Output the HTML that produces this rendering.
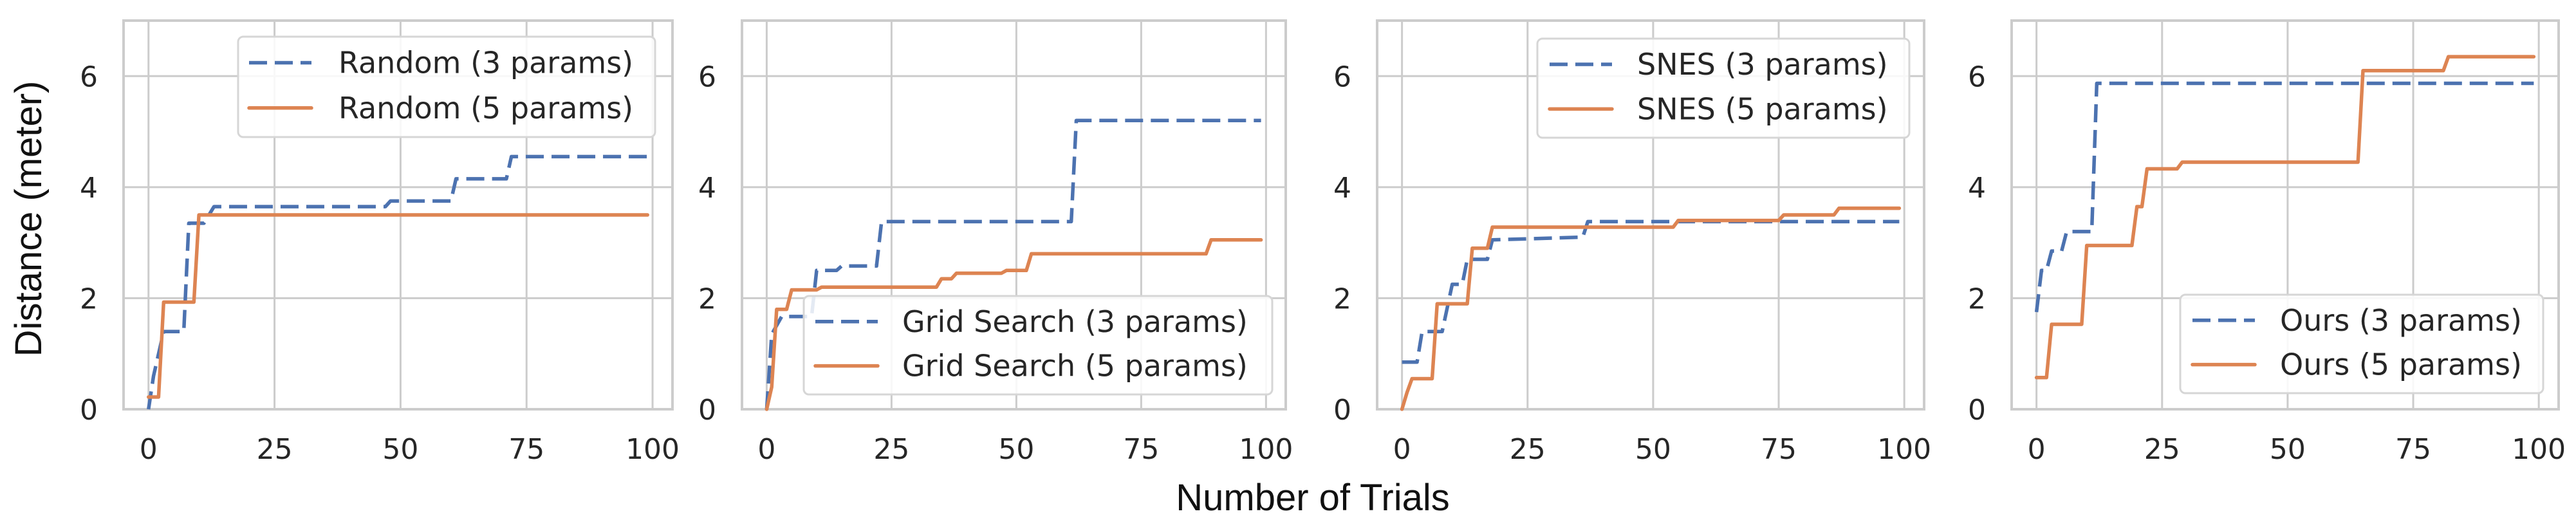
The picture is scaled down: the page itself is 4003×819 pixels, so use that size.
<!DOCTYPE html>
<html><head><meta charset="utf-8"><style>
html,body{margin:0;padding:0;background:#fff;}
svg{display:block;}
</style></head><body>
<svg id="chart" width="4003" height="819" xmlns="http://www.w3.org/2000/svg"></svg>
<script>
const xTicks=[0,25,50,75,100];
const yTicks=[0,2,4,6];
const titles3=["Random (3 params)","Grid Search (3 params)","SNES (3 params)","Ours (3 params)"];
const titles5=["Random (5 params)","Grid Search (5 params)","SNES (5 params)","Ours (5 params)"];
// panel 1
const p1bx=[0,1,3,7,8,11,13,47,48,60,61,71,72,99];
const p1by=[0,0.6,1.4,1.4,3.35,3.35,3.65,3.65,3.75,3.75,4.15,4.15,4.55,4.55];
const p1ox=[0,2,3,9,10,99];
const p1oy=[0.22,0.22,1.93,1.93,3.5,3.5];
// panel 2
const p2bx=[0,1,3,9,10,14,15,22,23,61,62,99];
const p2by=[0,1.35,1.67,1.67,2.5,2.5,2.58,2.58,3.38,3.38,5.2,5.2];
const p2ox=[0,1,2,4,5,10,11,34,35,37,38,47,48,52,53,88,89,99];
const p2oy=[0,0.4,1.8,1.8,2.15,2.15,2.2,2.2,2.35,2.35,2.45,2.45,2.5,2.5,2.8,2.8,3.05,3.05];
// panel 3
const p3bx=[0,3,4,8,10,12,13,17,18,36,37,99];
const p3by=[0.85,0.85,1.4,1.4,2.25,2.25,2.7,2.7,3.05,3.1,3.38,3.38];
const p3ox=[0,1,2,6,7,13,14,17,18,54,55,75,76,86,87,99];
const p3oy=[0,0.3,0.55,0.55,1.9,1.9,2.9,2.9,3.28,3.28,3.4,3.4,3.5,3.5,3.62,3.62];
// panel 4
const p4bx=[0,1,2,3,5,6,11,12,99];
const p4by=[1.75,2.5,2.5,2.85,2.85,3.2,3.2,5.87,5.87];
const p4ox=[0,2,3,9,10,19,20,21,22,28,29,64,65,81,82,99];
const p4oy=[0.57,0.57,1.53,1.53,2.95,2.95,3.65,3.65,4.33,4.33,4.45,4.45,6.1,6.1,6.35,6.35];

const series=[[p1bx,p1by,p1ox,p1oy],[p2bx,p2by,p2ox,p2oy],[p3bx,p3by,p3ox,p3oy],[p4bx,p4by,p4ox,p4oy]];
const panels=[{l:192,r:1045,leg:[370,57,648,156,387,526]},{l:1153,r:1998,leg:[1249,460,728,153,1267,1402]},{l:2140,r:2990,leg:[2389,60,578,154,2408,2544]},{l:3126,r:3976,leg:[3388,458,564,153,3407,3543]}];
const TOP=32,BOT=636,XMIN=-4.95,XMAX=103.95,YMAX=7;
const NS="http://www.w3.org/2000/svg";
const svg=document.getElementById('chart');
function mk(tag,attrs,parent){const e=document.createElementNS(NS,tag);for(const k in attrs)e.setAttribute(k,attrs[k]);(parent||svg).appendChild(e);return e;}
const BLUE="#4c72b0",ORANGE="#dd8452",GRID="#cccccc",TXT="#262626";
panels.forEach((p,i)=>{
  const g=mk('g',{});
  
  
  const sx=v=>p.l+(v-XMIN)/(XMAX-XMIN)*(p.r-p.l);
  const sy=v=>BOT-v/YMAX*(BOT-TOP);
  xTicks.forEach(t=>{
    const ln=mk('line',{x1:sx(t),x2:sx(t),y1:TOP,y2:BOT,stroke:GRID,'stroke-width':3},g);
    
    
    const tx=mk('text',{x:sx(t),y:713,'text-anchor':'middle','font-family':'DejaVu Sans, sans-serif','font-size':44,fill:TXT},g);
    tx.textContent=t;
    
    
  });
  yTicks.forEach(t=>{
    const ln=mk('line',{x1:p.l,x2:p.r,y1:sy(t),y2:sy(t),stroke:GRID,'stroke-width':3},g);
    
    
    const tx=mk('text',{x:p.l-40,y:sy(t)+16,'text-anchor':'end','font-family':'DejaVu Sans, sans-serif','font-size':44,fill:TXT},g);
    tx.textContent=t;
    
    
  });
  const fr=mk('rect',{x:p.l,y:TOP,width:p.r-p.l,height:BOT-TOP,fill:'none',stroke:GRID,'stroke-width':4},g);
  
  
  const s=series[i];
  const pts=(xs,ys)=>xs.map((x,k)=>sx(x).toFixed(1)+','+sy(ys[k]).toFixed(1)).join(' ');
  const lb=mk('polyline',{points:pts(s[0],s[1]),fill:'none',stroke:BLUE,'stroke-width':5.5,'stroke-dasharray':'28 12','stroke-linejoin':'round'},g);
  
  
  const lo=mk('polyline',{points:pts(s[2],s[3]),fill:'none',stroke:ORANGE,'stroke-width':5.5,'stroke-linejoin':'round','stroke-linecap':'round'},g);
  
  
  const L=p.leg;
  const lg=mk('g',{},g);
  
  
  mk('rect',{x:L[0],y:L[1],width:L[2],height:L[3],rx:8,fill:'#fff','fill-opacity':0.85,stroke:'#d6d6d6','stroke-width':3},lg);
  const y1=L[1]+L[3]*0.26,y2=L[1]+L[3]*0.71;
  mk('line',{x1:L[4],x2:L[4]+97,y1:y1,y2:y1,stroke:BLUE,'stroke-width':5.5,'stroke-dasharray':'28 12'},lg);
  mk('line',{x1:L[4],x2:L[4]+97,y1:y2,y2:y2,stroke:ORANGE,'stroke-width':5.5,'stroke-linecap':'round'},lg);
  const t1=mk('text',{x:L[5],y:y1+16,'font-family':'DejaVu Sans, sans-serif','font-size':46,fill:TXT},lg);
  t1.textContent=titles3[i];
  
  
  const t2=mk('text',{x:L[5],y:y2+16,'font-family':'DejaVu Sans, sans-serif','font-size':46,fill:TXT},lg);
  t2.textContent=titles5[i];
  
  
});
const yl=mk('text',{x:0,y:0,transform:'translate(64,340) rotate(-90)','text-anchor':'middle','font-family':'Liberation Sans, sans-serif','font-size':58,fill:'#111'});
yl.textContent='Distance (meter)';


const xl=mk('text',{x:2040,y:793,'text-anchor':'middle','font-family':'Liberation Sans, sans-serif','font-size':58,fill:'#111'});
xl.textContent='Number of Trials';


</script>
</body></html>
